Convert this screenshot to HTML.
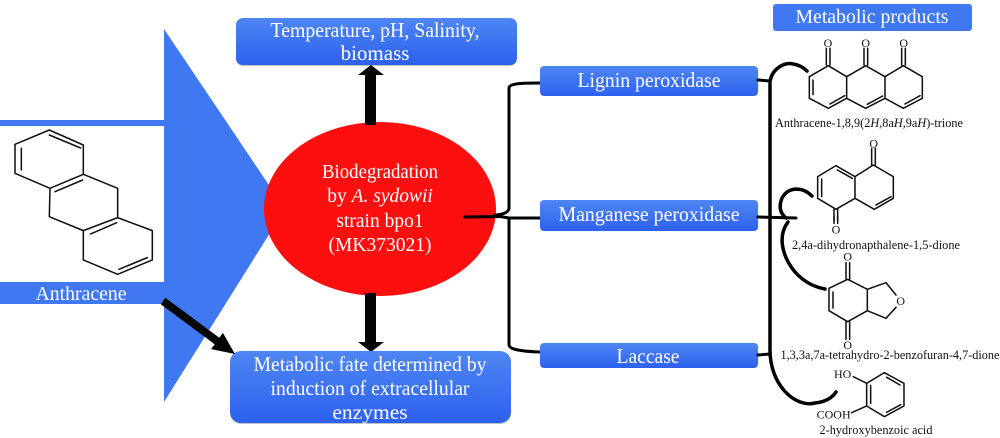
<!DOCTYPE html>
<html><head><meta charset="utf-8"><style>
html,body{margin:0;padding:0;background:#fff;width:1000px;height:438px;overflow:hidden}
svg{display:block}
text{font-family:"Liberation Serif",serif}
.w{fill:#fff;text-anchor:middle}
.k{fill:#111;text-anchor:middle;font-size:12.5px}
.m{fill:none;stroke:#111;stroke-width:4.6;stroke-linejoin:round;stroke-linecap:round}
.c{fill:none;stroke:#000;stroke-linecap:round;stroke-linejoin:round}
</style></head><body>
<svg width="1000" height="438" viewBox="0 0 1000 438" xmlns="http://www.w3.org/2000/svg">
<defs>
<linearGradient id="g" x1="0" y1="0" x2="0" y2="1"><stop offset="0" stop-color="#4f86f3"/><stop offset="1" stop-color="#2d61ee"/></linearGradient>
</defs>
<!-- large arrow -->
<polygon points="164,29 285,209 164,402 164,304 0,304 0,282 164,282 164,126 0,126 0,120 164,120" fill="#3f78f0"/>
<text class="w" x="81" y="300" font-size="20" textLength="91" lengthAdjust="spacingAndGlyphs">Anthracene</text>
<!-- anthracene molecule -->
<g transform="translate(0,20) scale(.3333)">
<path class="m" d="M148,330 L250,375 L250,463 L150,505 L45,460 L45,373 Z M250,463 L353,505 L353,593 L250,632 L148,590 L150,505 M353,593 L457,632 L457,720 L353,763 L250,720 L250,632 M148,345 L242,384 M64,385 L64,450 M165,515 L248,480 M272,642 L350,608 M357,748 L442,713"/>
</g>
<!-- ellipse -->
<ellipse cx="380" cy="209" rx="116" ry="87" fill="#fe0f0f"/>
<text class="w" font-size="19.500" x="380" y="178" textLength="116" lengthAdjust="spacingAndGlyphs">Biodegradation</text>
<text class="w" font-size="19.500" x="380" y="202">by <tspan font-style="italic">A. sydowii</tspan></text>
<text class="w" font-size="19.500" x="380" y="227">strain bpo1</text>
<text class="w" font-size="19.500" x="380" y="251">(MK373021)</text>
<!-- top box -->
<rect x="236" y="20" width="281" height="46" rx="7" fill="#8a9a90" opacity=".6"/>
<rect x="236" y="18" width="281" height="47" rx="7" fill="url(#g)"/>
<text class="w" font-size="21" x="375" y="37" textLength="209" lengthAdjust="spacingAndGlyphs">Temperature, pH, Salinity,</text>
<text class="w" font-size="21" x="375" y="60">biomass</text>
<!-- vertical arrows -->
<polygon points="371,65 384,75 376,75 376,125 365,125 365,75 358,75" fill="#040404"/>
<polygon points="365,293 376,293 376,342 384,342 371,352 358,342 365,342" fill="#040404"/>
<!-- bottom box -->
<rect x="230" y="353" width="281" height="71" rx="11" fill="#8a9a90" opacity=".6"/>
<rect x="230" y="351" width="281" height="72" rx="11" fill="url(#g)"/>
<text class="w" font-size="21.500" x="370" y="371" textLength="233" lengthAdjust="spacingAndGlyphs">Metabolic fate determined by</text>
<text class="w" font-size="21.500" x="370" y="395" textLength="199" lengthAdjust="spacingAndGlyphs">induction of extracellular</text>
<text class="w" font-size="21.500" x="370" y="419">enzymes</text>
<!-- diagonal arrow -->
<polygon points="165.300,297.800 219.300,337.800 222.900,332.900 235,354 211.100,349.100 214.700,344.200 160.700,304.200" fill="#040404"/>
<!-- left bracket -->
<path class="c" stroke-width="3" d="M540,83 C525,83 509,83 509,88 L509,208 Q509,214 495,215 M509,218 L509,345 Q509,351 540,352"/>
<path class="c" stroke-width="3" d="M465,217 L500,216.500 L509,218 L540,218"/>
<!-- enzyme boxes -->
<rect x="540" y="66" width="218" height="30" rx="4" fill="url(#g)"/>
<rect x="540" y="200" width="218" height="31" rx="4" fill="url(#g)"/>
<rect x="540" y="343" width="218" height="25" rx="4" fill="url(#g)"/>
<text class="w" font-size="21" x="649" y="87" textLength="143" lengthAdjust="spacingAndGlyphs">Lignin peroxidase</text>
<text class="w" font-size="21" x="649" y="221" textLength="181" lengthAdjust="spacingAndGlyphs">Manganese peroxidase</text>
<text class="w" font-size="21" x="648" y="363" textLength="63" lengthAdjust="spacingAndGlyphs">Laccase</text>
<!-- right bracket -->
<path class="c" stroke-width="3" d="M758,80 L770,81 M758,217 L796,218 M758,355 L770,354"/>
<path class="c" stroke-width="3.500" d="M770,84 L770,350 C770,385 795,408 815,403 C825,402 832,398 836,392"/>
<path class="c" stroke-width="3.500" d="M770,82 C772,68 785,62 793,64 C800,65 804,68 807,71"/>
<path class="c" stroke-width="3.500" d="M812,196 C802,186 788,187 782,198 C778,208 781,214 786,218"/>
<path class="c" stroke-width="3.500" d="M788,222 C778,235 781,255 795,272 C805,283 815,287 825,289"/>
<!-- products header -->
<rect x="773" y="4" width="199" height="27" rx="3" fill="#3f78f0"/>
<text class="w" font-size="20.500" x="872" y="23" textLength="153" lengthAdjust="spacingAndGlyphs">Metabolic products</text>
<!-- trione -->
<g transform="translate(750,0) scale(.3333)">
<path class="m" d="M235,197 L290,230 L290,295 L235,325 L178,295 L178,230 Z M290,230 L347,197 L405,230 L405,295 L347,325 L290,295 M405,230 L460,197 L517,230 L517,295 L460,325 L405,295 M189,240 L189,284 M240,312 L284,287 M352,313 L398,288 M465,312 L510,287 M229,145 L229,195 M240,145 L240,195 M342,145 L342,195 M353,145 L353,195 M455,145 L455,195 M466,145 L466,195"/>
<g fill="#111" text-anchor="middle" font-size="36">
<text x="234" y="141">O</text><text x="347" y="141">O</text><text x="461" y="141">O</text>
</g>
<!-- dione 1 -->
<path class="m" d="M370,495 L430,530 L430,595 L373,628 L315,595 L315,530 Z M315,530 L258,497 L203,530 L203,595 L258,628 L315,595 M215,537 L215,590 M262,510 L307,535 M378,615 L423,590 M365,445 L365,495 M376,445 L376,495 M252,628 L252,660 M263,628 L263,660"/>
<text x="371" y="443" fill="#111" text-anchor="middle" font-size="36">O</text>
</g>
<text class="k" x="869" y="127" textLength="188" lengthAdjust="spacingAndGlyphs">Anthracene-1,8,9(2<tspan font-style="italic">H</tspan>,8a<tspan font-style="italic">H</tspan>,9a<tspan font-style="italic">H</tspan>)-trione</text>
<g transform="translate(750,220) scale(.3333)">
<path class="m" d="M252,-10 L252,10 M263,-10 L263,10"/>
<text x="258" y="40" fill="#111" text-anchor="middle" font-size="36">O</text>
<!-- benzofuran dione -->
<path class="m" d="M293,178 L352,208 L352,272 L293,305 L237,272 L237,205 Z M352,208 L408,188 L438,225 M438,262 L408,295 L352,272 M249,216 L249,264 M288,128 L288,178 M299,128 L299,178 M288,305 L288,358 M299,305 L299,358"/>
<g fill="#111" text-anchor="middle" font-size="36">
<text x="293" y="122">O</text><text x="452" y="255">O</text><text x="293" y="387">O</text>
</g>
<!-- salicylic -->
<path class="m" d="M403,458 L462,490 L462,558 L403,590 L350,558 L350,490 Z M410,472 L450,495 M362,497 L362,550 M410,577 L452,554 M310,470 L350,490 M305,578 L350,558"/>
<g fill="#111" font-size="36">
<text x="252" y="474">HO</text><text x="200" y="595">COOH</text>
</g>
</g>
<text class="k" x="876" y="249" textLength="168" lengthAdjust="spacingAndGlyphs">2,4a-dihydronapthalene-1,5-dione</text>
<text class="k" x="890" y="359" textLength="219" lengthAdjust="spacingAndGlyphs">1,3,3a,7a-tetrahydro-2-benzofuran-4,7-dione</text>
<text class="k" x="876" y="434" textLength="113" lengthAdjust="spacingAndGlyphs">2-hydroxybenzoic acid</text>
</svg>
</body></html>
